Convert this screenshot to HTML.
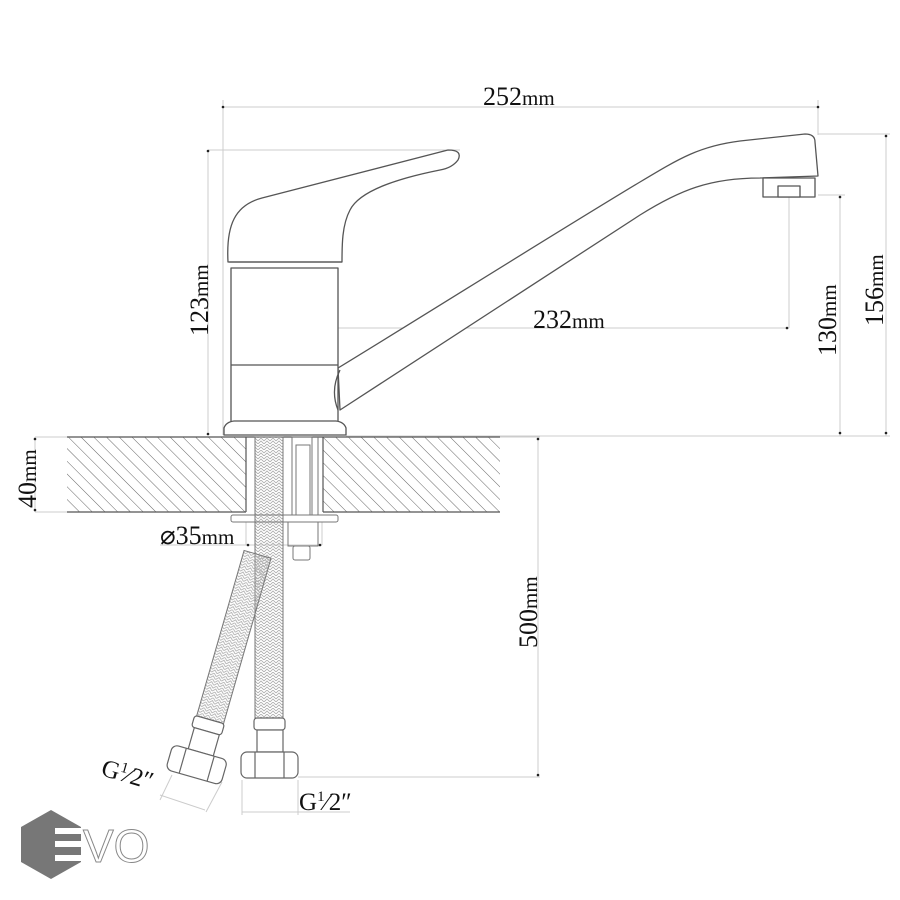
<!DOCTYPE html>
<html><head><meta charset="utf-8"><style>
html,body{margin:0;padding:0;background:#fff;width:900px;height:900px;overflow:hidden}
svg text{font-family:"Liberation Serif",serif;fill:#111}
</style></head><body>
<svg width="900" height="900" viewBox="0 0 900 900" xmlns="http://www.w3.org/2000/svg">
<defs>
<pattern id="hatch" patternUnits="userSpaceOnUse" width="9" height="9" patternTransform="rotate(-45)">
<line x1="0" y1="0" x2="0" y2="9" stroke="#666" stroke-width="1"/>
</pattern>
<pattern id="braid" patternUnits="userSpaceOnUse" width="6" height="6">
<path d="M0 3 L3 0 L6 3 M0 6 L3 3 L6 6" stroke="#aaa" stroke-width="0.8" fill="none"/>
</pattern>
</defs>
<g fill="none" stroke="#ccc" stroke-width="1">
<line x1="223" y1="100" x2="223" y2="435"/>
<line x1="818" y1="100" x2="818" y2="135"/>
<line x1="223" y1="107" x2="818" y2="107"/>
<line x1="208" y1="150" x2="460" y2="150"/>
<line x1="208" y1="150" x2="208" y2="435"/>
<line x1="288" y1="328" x2="789" y2="328"/>
<line x1="288" y1="328" x2="288" y2="364"/>
<line x1="789" y1="195" x2="789" y2="328"/>
<line x1="818" y1="134" x2="890" y2="134"/>
<line x1="818" y1="195" x2="845" y2="195"/>
<line x1="840" y1="195" x2="840" y2="436"/>
<line x1="886" y1="134" x2="886" y2="436"/>
<line x1="346" y1="436" x2="890" y2="436"/>
<line x1="35" y1="437" x2="67" y2="437"/>
<line x1="35" y1="512" x2="67" y2="512"/>
<line x1="35" y1="437" x2="35" y2="512"/>
<line x1="500" y1="437" x2="540" y2="437"/>
<line x1="538" y1="437" x2="538" y2="777"/>
<line x1="298" y1="777" x2="540" y2="777"/>
<line x1="160" y1="545" x2="322" y2="545"/>
<line x1="246" y1="522" x2="246" y2="545"/>
<line x1="322" y1="522" x2="322" y2="545"/>
<line x1="242" y1="780" x2="242" y2="815"/>
<line x1="298" y1="780" x2="298" y2="815"/>
<line x1="242" y1="812" x2="350" y2="812"/>
<line x1="160" y1="795" x2="205" y2="810"/>
<line x1="172" y1="775" x2="160" y2="800"/>
<line x1="222" y1="782" x2="206" y2="812"/>
</g>
<g fill="#222">
<circle cx="223" cy="107" r="1.3"/><circle cx="818" cy="107" r="1.3"/>
<circle cx="208" cy="151" r="1.3"/><circle cx="208" cy="434" r="1.3"/>
<circle cx="840" cy="197" r="1.3"/><circle cx="840" cy="433" r="1.3"/>
<circle cx="886" cy="136" r="1.3"/><circle cx="886" cy="433" r="1.3"/>
<circle cx="35" cy="439" r="1.3"/><circle cx="35" cy="510" r="1.3"/>
<circle cx="538" cy="439" r="1.3"/><circle cx="538" cy="775" r="1.3"/>
<circle cx="289" cy="328" r="1.3"/><circle cx="787" cy="328" r="1.3"/>
<circle cx="248" cy="545" r="1.3"/><circle cx="320" cy="545" r="1.3"/>
</g>
<rect x="67" y="437" width="179" height="75" fill="url(#hatch)"/>
<rect x="323" y="437" width="177" height="75" fill="url(#hatch)"/>
<g fill="none" stroke="#555" stroke-width="1.2">
<line x1="67" y1="437" x2="500" y2="437"/>
<line x1="67" y1="512" x2="246" y2="512"/>
<line x1="323" y1="512" x2="500" y2="512"/>
<line x1="246" y1="437" x2="246" y2="512"/>
<line x1="323" y1="437" x2="323" y2="512"/>
</g>
<rect x="255" y="437" width="28" height="285" fill="url(#braid)" stroke="#777" stroke-width="1"/>
<g fill="none" stroke="#777" stroke-width="1">
<rect x="292" y="437" width="20" height="78"/>
<rect x="296" y="445" width="14" height="70"/>
<line x1="318" y1="437" x2="318" y2="515"/>
<rect x="231" y="515" width="107" height="7" rx="2"/>
<rect x="288" y="522" width="30" height="24"/>
<rect x="293" y="546" width="17" height="14" rx="2"/>
</g>
<g fill="#fff" stroke="#666" stroke-width="1.2">
<rect x="254" y="718" width="31" height="12" rx="3"/>
<rect x="257" y="730" width="26" height="22"/>
<rect x="241" y="752" width="57" height="26" rx="6"/>
<line x1="255" y1="752" x2="255" y2="778"/><line x1="284" y1="752" x2="284" y2="778"/>
</g>
<g transform="rotate(16 198 762)">
<rect x="184" y="546" width="28" height="176" fill="url(#braid)" stroke="#777" stroke-width="1"/>
<g fill="#fff" stroke="#666" stroke-width="1.2">
<rect x="182" y="718" width="31" height="12" rx="3"/>
<rect x="185" y="730" width="26" height="22"/>
<rect x="169" y="752" width="57" height="26" rx="6"/>
<line x1="183" y1="752" x2="183" y2="778"/><line x1="212" y1="752" x2="212" y2="778"/>
</g>
</g>
<g fill="#fff" stroke="#555" stroke-width="1.3" stroke-linejoin="round">
<path d="M338 368 C420 318 560 230 640 182 C680 158 700 146 740 141 L805 134 Q815 134 815 142 L818 176 L760 178 C710 178 680 190 640 215 L340 410 Z"/>
<rect x="763" y="178" width="52" height="19"/>
<rect x="778" y="186" width="22" height="11"/>
<path d="M231 268 L338 268 L338 425 L231 425 Z"/>
<line x1="231" y1="365" x2="338" y2="365"/>
<path d="M340 370 Q330 390 338 410" fill="none"/>
<path d="M228 262 C226 225 235 205 262 198 L448 150 Q463 150 458 160 Q452 168 440 170 C400 178 360 190 350 210 C342 225 342 245 342 262 Z"/>
<line x1="229" y1="262" x2="342" y2="262"/>
<path d="M224 435 L224 428 Q226 422 234 421 L336 421 Q344 422 346 428 L346 435 Z"/>
</g>
<text x="483" y="105" font-size="26">252<tspan font-size="21">mm</tspan></text>
<text x="533" y="328" font-size="26">232<tspan font-size="21">mm</tspan></text>
<text transform="translate(208 336) rotate(-90)" font-size="26">123<tspan font-size="21">mm</tspan></text>
<text transform="translate(836 356) rotate(-90)" font-size="26">130<tspan font-size="21">mm</tspan></text>
<text transform="translate(883 326) rotate(-90)" font-size="26">156<tspan font-size="21">mm</tspan></text>
<text transform="translate(36 508) rotate(-90)" font-size="26">40<tspan font-size="21">mm</tspan></text>
<text transform="translate(537 648) rotate(-90)" font-size="26">500<tspan font-size="21">mm</tspan></text>
<text x="160" y="544" font-size="26">⌀35<tspan font-size="21">mm</tspan></text>
<text x="299" y="810" font-size="25">G<tspan font-size="15" dy="-9">1</tspan><tspan dy="9">⁄2″</tspan></text>
<text transform="translate(100 775) rotate(16)" font-size="25">G<tspan font-size="15" dy="-9">1</tspan><tspan dy="9">⁄2″</tspan></text>
<polygon points="51,810 81,827 81,862 51,879 21,862 21,827" fill="#777"/>
<g fill="#fff"><rect x="55" y="828" width="28" height="6"/><rect x="55" y="841" width="28" height="6"/><rect x="55" y="855" width="28" height="6"/></g>
<text x="83" y="862" font-size="46" style="font-family:'Liberation Sans',sans-serif;fill:#fff;stroke:#888;stroke-width:1">VO</text>
</svg>
</body></html>
